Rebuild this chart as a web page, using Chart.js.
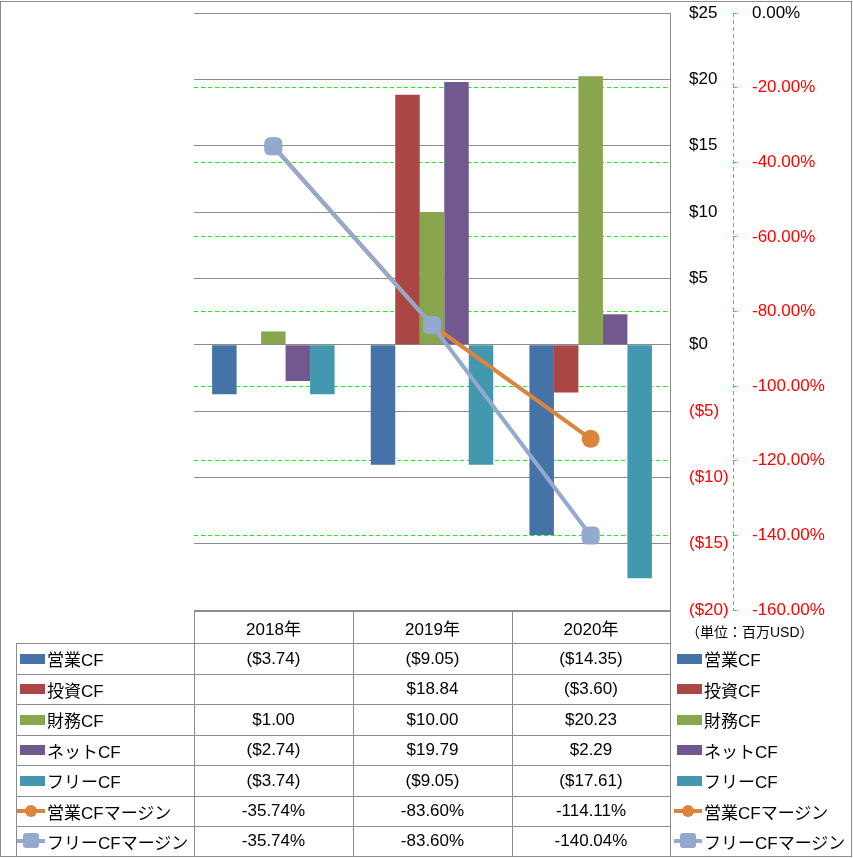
<!DOCTYPE html>
<html><head><meta charset="utf-8">
<script src="https://cdn.jsdelivr.net/npm/chart.js@4/dist/chart.umd.min.js"></script>
<style>
html,body{margin:0;padding:0;background:#fff;}
#wrap{position:relative;width:853px;height:858px;overflow:hidden;font-family:'Liberation Sans','Noto Sans CJK JP',sans-serif;color:#000;}
canvas{position:absolute;left:0;top:0;}
.hl{position:absolute;height:1px;background:#8c8c8c;}
.vl{position:absolute;width:1px;background:#8c8c8c;}
.cell{position:absolute;font-size:17px;display:flex;align-items:center;justify-content:center;white-space:nowrap;}
.lab{position:absolute;font-size:17px;display:flex;align-items:center;white-space:nowrap;}
.sw{position:relative;display:inline-block;width:28px;height:16px;margin-right:2px;flex:none;}
</style></head>
<body>
<div id="wrap">
<canvas id="c" width="853" height="858"></canvas>
<div style="position:absolute;left:0;top:1px;width:850px;height:854px;border:1px solid #8c8c8c;"></div>
<div id="unit" style="position:absolute;left:686px;top:621px;font-size:14px;white-space:nowrap;">（単位：百万USD）</div>
</div>
<script>
// ---- data ----
const years = ['2018年', '2019年', '2020年'];
const opCF = [-3.74, -9.05, -14.35];
const invCF = [null, 18.84, -3.60];
const finCF = [1.00, 10.00, 20.23];
const netCF = [-2.74, 19.79, 2.29];
const freeCF = [-3.74, -9.05, -17.61];
const opMargin = [-35.74, -83.60, -114.11];
const freeMargin = [-35.74, -83.60, -140.04];
const usdTickRange = [-20, 25, 5];   // min, max, step
const pctTickRange = [-160, 0, 20];  // min, max, step

// ---- formatting ----
const fmtUsd2 = v => v == null ? '' : (v < 0 ? '($' + (-v).toFixed(2) + ')' : '$' + v.toFixed(2));
const fmtUsd0 = v => v < 0 ? '($' + (-v) + ')' : '$' + v;
const fmtPct = v => v.toFixed(2) + '%';

const series = [
  {name: '営業CF', data: opCF, color: '#4572A7', kind: 'bar', fmt: fmtUsd2},
  {name: '投資CF', data: invCF, color: '#AA4643', kind: 'bar', fmt: fmtUsd2},
  {name: '財務CF', data: finCF, color: '#89A54E', kind: 'bar', fmt: fmtUsd2},
  {name: 'ネットCF', data: netCF, color: '#71588F', kind: 'bar', fmt: fmtUsd2},
  {name: 'フリーCF', data: freeCF, color: '#4198AF', kind: 'bar', fmt: fmtUsd2},
  {name: '営業CFマージン', data: opMargin, color: '#DB843D', kind: 'circle', fmt: fmtPct},
  {name: 'フリーCFマージン', data: freeMargin, color: '#93A9CF', kind: 'square', fmt: fmtPct}
];

const datasets = series.map((s, i) => {
  if (s.kind === 'bar') {
    return {type: 'bar', label: s.name, data: s.data, backgroundColor: s.color, yAxisID: 'y',
      order: 10 + i, barPercentage: 1, categoryPercentage: 0.772};
  }
  return {type: 'line', label: s.name, data: s.data, borderColor: s.color, backgroundColor: s.color,
    borderWidth: 4, yAxisID: 'y2', order: s.kind === 'square' ? 1 : 2, tension: 0,
    pointStyle: s.kind === 'square' ? 'rectRounded' : 'circle',
    pointRadius: s.kind === 'square' ? 10.5 : 9, pointBorderWidth: 0, pointHoverRadius: 9};
});

const negRed = ctx => (ctx.tick && ctx.tick.value < 0) ? '#ff0000' : '#000000';

const axisDash = {
  id: 'axisDash',
  afterDraw(chart) {
    const s = chart.scales.y2;
    const ctx = chart.ctx;
    ctx.save();
    ctx.strokeStyle = '#00ff00';
    ctx.lineWidth = 1;
    ctx.setLineDash([4, 3]);
    ctx.beginPath();
    ctx.moveTo(Math.round(s.left) + 0.5, s.top);
    ctx.lineTo(Math.round(s.left) + 0.5, s.bottom);
    ctx.stroke();
    ctx.restore();
  }
};

Chart.defaults.font.family = "'Liberation Sans','Noto Sans CJK JP',sans-serif";
Chart.defaults.font.size = 17;
Chart.defaults.color = '#000';

const fitY = w => s => { s.width = w; s.paddingTop = 0; s.paddingBottom = 0; };

new Chart(document.getElementById('c'), {
  data: {labels: years, datasets},
  options: {
    responsive: false, animation: false,
    layout: {padding: {left: 194, right: 2, top: 13, bottom: 248}},
    plugins: {legend: {display: false}, tooltip: {enabled: false}},
    scales: {
      x: {type: 'category', display: false, offset: true, grid: {display: false}},
      y: {position: 'right', min: usdTickRange[0], max: usdTickRange[1],
        ticks: {stepSize: usdTickRange[2], color: negRed, padding: 19, callback: v => fmtUsd0(v)},
        grid: {color: '#8c8c8c', lineWidth: 1, drawTicks: false},
        border: {display: true, color: '#8c8c8c', width: 1},
        afterFit: fitY(63)},
      y2: {position: 'right', min: pctTickRange[0], max: pctTickRange[1],
        ticks: {stepSize: pctTickRange[2], color: negRed, padding: 15, callback: v => fmtPct(v)},
        grid: {color: ctx => (ctx.tick && (ctx.tick.value === pctTickRange[0] || ctx.tick.value === pctTickRange[1])) ? 'rgba(0,0,0,0)' : '#00ff00',
          lineWidth: 1, drawTicks: true, tickLength: 4, tickColor: '#00ff00', drawOnChartArea: true},
        border: {display: false, dash: [4, 3]},
        afterFit: fitY(118)}
    }
  },
  plugins: [axisDash]
});

// ---- data table ----
const wrap = document.getElementById('wrap');
const colX = [16, 194, 353, 512, 670];
const rowY = [611, 643, 674, 704, 735, 765, 796, 826, 856];
function add(cls, style, html) {
  const d = document.createElement('div');
  d.className = cls; Object.assign(d.style, style);
  if (html != null) d.innerHTML = html;
  wrap.appendChild(d); return d;
}
add('hl', {left: colX[1] + 'px', top: rowY[0] + 'px', width: (colX[4] - colX[1] + 1) + 'px'});
for (let r = 1; r < rowY.length - 1; r++) add('hl', {left: colX[0] + 'px', top: rowY[r] + 'px', width: (colX[4] - colX[0] + 1) + 'px'});
add('vl', {left: colX[0] + 'px', top: rowY[1] + 'px', height: (rowY[8] - rowY[1]) + 'px'});
for (let c = 1; c < colX.length; c++) add('vl', {left: colX[c] + 'px', top: rowY[0] + 'px', height: (rowY[8] - rowY[0]) + 'px'});

function swatch(s) {
  if (s.kind === 'bar') return `<span class="sw"><span style="position:absolute;left:3px;top:3px;width:25px;height:10px;background:${s.color}"></span></span>`;
  const mk = s.kind === 'circle'
    ? `<span style="position:absolute;left:8px;top:2px;width:12px;height:12px;border-radius:6px;background:${s.color}"></span>`
    : `<span style="position:absolute;left:6px;top:0px;width:16px;height:15px;border-radius:3px;background:${s.color}"></span>`;
  return `<span class="sw"><span style="position:absolute;left:0;top:6px;width:28px;height:4px;background:${s.color}"></span>${mk}</span>`;
}

years.forEach((y, c) => add('cell', {left: colX[c + 1] + 'px', width: (colX[c + 2] - colX[c + 1]) + 'px', top: rowY[0] + 'px', height: (rowY[1] - rowY[0]) + 'px'}, y));
series.forEach((s, r) => {
  const top = rowY[r + 1], h = rowY[r + 2] - rowY[r + 1];
  add('lab', {left: (colX[0] + 1) + 'px', top: top + 'px', height: h + 'px'}, swatch(s) + s.name);
  s.data.forEach((v, c) => add('cell', {left: colX[c + 1] + 'px', width: (colX[c + 2] - colX[c + 1]) + 'px', top: top + 'px', height: h + 'px'}, s.fmt(v)));
  add('lab', {left: '674px', top: top + 'px', height: h + 'px'}, swatch(s) + s.name);
});
</script>
</body></html>
